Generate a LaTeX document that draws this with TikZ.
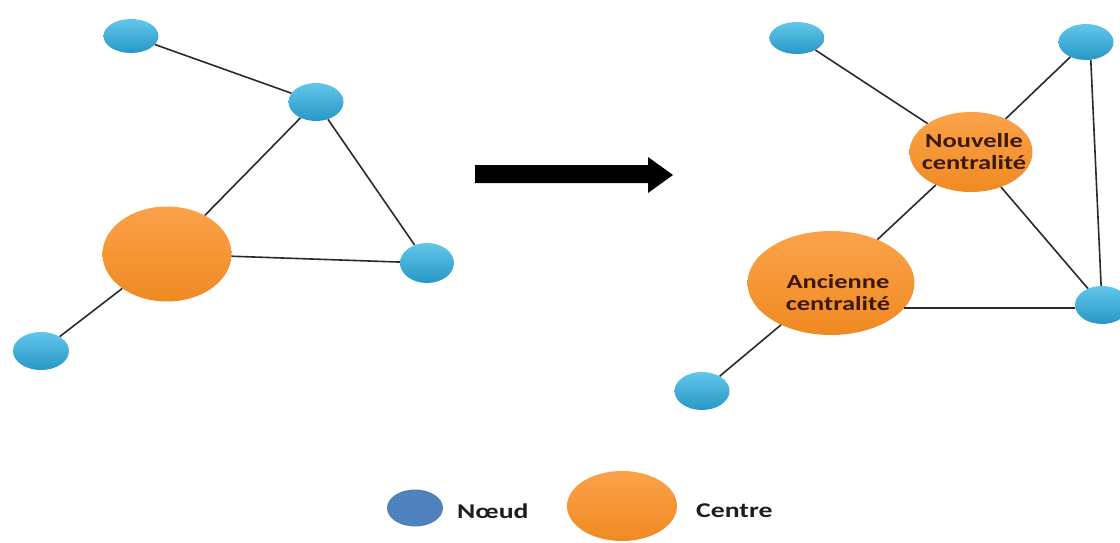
\documentclass[tikz,border=0pt]{standalone}
\usepackage{fontspec}
\setmainfont{Carlito}
\usetikzlibrary{shapes.geometric}
\definecolor{bluetop}{HTML}{62C6EA}
\definecolor{bluebot}{HTML}{2698C6}
\definecolor{orangetop}{HTML}{FBA24A}
\definecolor{orangebot}{HTML}{F08A22}
\definecolor{legblue}{HTML}{4F81BD}
\definecolor{edgecol}{HTML}{2A2A2A}
\definecolor{labcol}{HTML}{3A1A05}
\definecolor{legtext}{HTML}{1E1E1E}
\newcommand\stretchtxt[1]{\scalebox{1.32}[1]{#1}}
\begin{document}
\begin{tikzpicture}[x=1pt,y=-1pt,
  bnode/.style={ellipse, inner sep=0pt, draw=none, top color=bluetop, bottom color=bluebot},
  onode/.style={ellipse, inner sep=0pt, draw=none, top color=orangetop, bottom color=orangebot},
  lab/.style={align=center, text=labcol, font=\fontsize{20}{22}\selectfont\bfseries},
  legtxt/.style={anchor=west, inner sep=0pt, text=legtext, font=\fontsize{21}{24}\selectfont\bfseries},
  edge/.style={draw=edgecol, line width=1.6pt}]
\useasboundingbox (0,0) rectangle (1120,543);
\fill[white] (0,0) rectangle (1120,543);

% left graph
\node[bnode, minimum width=55pt, minimum height=34pt] (A) at (131,36) {};
\node[bnode, minimum width=55pt, minimum height=38pt] (B) at (316,102) {};
\node[onode, minimum width=129pt, minimum height=95pt] (O) at (167,254) {};
\node[bnode, minimum width=54pt, minimum height=40pt] (C) at (427,263) {};
\node[bnode, minimum width=56pt, minimum height=38pt] (D) at (41,351) {};

\draw[edge] (A) -- (B);
\draw[edge] (B) -- (O);
\draw[edge] (B) -- (C);
\draw[edge] (O) -- (C);
\draw[edge] (O) -- (D);

% arrow
\fill[black] (475,165) -- (648,165) -- (648,157) -- (673,175) -- (648,193) -- (648,183) -- (475,183) -- cycle;

% right graph
\node[bnode, minimum width=55pt, minimum height=32pt] (E) at (797,38) {};
\node[bnode, minimum width=55pt, minimum height=36pt] (F) at (1086,42) {};
\node[onode, minimum width=123pt, minimum height=80pt,
  label={[lab, yshift=0pt, xshift=3pt]center:{\stretchtxt{Nouvelle}\\\stretchtxt{centralité}}}] (N) at (971,152) {};
\node[onode, minimum width=167pt, minimum height=104pt,
  label={[lab, yshift=-10pt, xshift=7pt]center:{\stretchtxt{Ancienne}\\\stretchtxt{centralité}}}] (An) at (831,283) {};
\node[bnode, minimum width=54pt, minimum height=38pt] (G) at (1102,305) {};
\node[bnode, minimum width=55pt, minimum height=38pt] (H) at (702,391) {};

\draw[edge] (E) -- (N);
\draw[edge] (F) -- (N);
\draw[edge] (F.-75) -- (G);
\draw[edge] (N) -- (An);
\draw[edge] (N) -- (G);
\draw[edge] (An.-19) -- (An.-19 -| G.west);
\draw[edge] (An) -- (H);

% legend
\node[ellipse, inner sep=0pt, fill=legblue, minimum width=56pt, minimum height=37pt] (L1) at (415,508) {};
\node[legtxt] (L1t) at (457,511) {\stretchtxt{Nœud}};
\node[onode, minimum width=110pt, minimum height=70pt] (L2) at (622,506) {};
\node[legtxt] (L2t) at (696,511) {\stretchtxt{Centre}};
\end{tikzpicture}
\end{document}
